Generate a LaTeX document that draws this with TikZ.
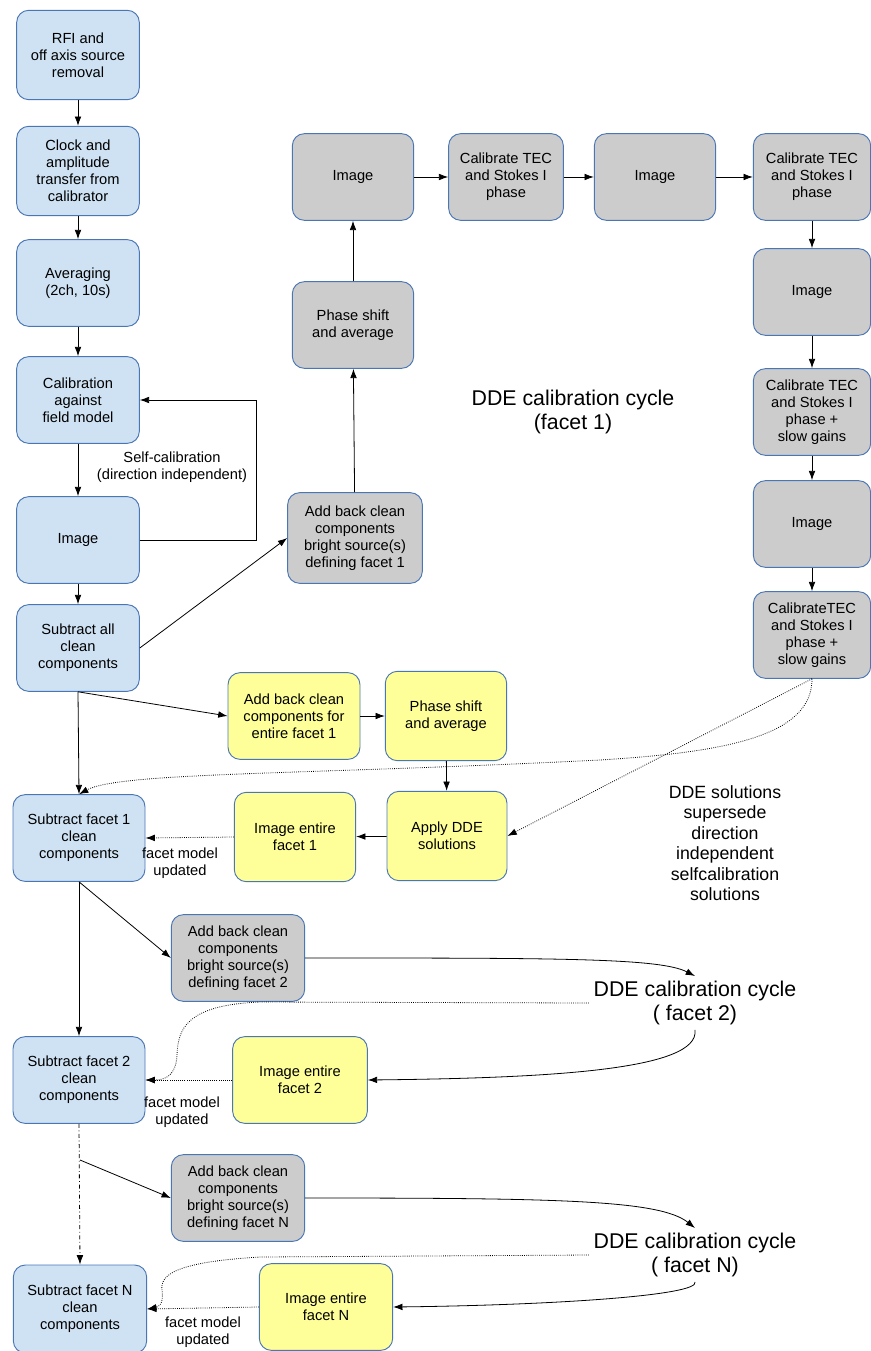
\documentclass[tikz,border=0pt]{standalone}
\usepackage{fontspec}
\setmainfont{Liberation Sans}
\usetikzlibrary{arrows.meta}
\definecolor{boxline}{RGB}{74,118,182}
\definecolor{bluefill}{RGB}{207,226,243}
\definecolor{grayfill}{RGB}{204,204,204}
\definecolor{yellowfill}{RGB}{255,255,153}
\tikzstyle{flowbox}=[draw=boxline, line width=0.7pt, rounded corners=9pt, align=center,
    inner sep=1pt, font=\fontsize{11}{12.8}\selectfont]
\tikzstyle{bluebox}=[flowbox, fill=bluefill]
\tikzstyle{graybox}=[flowbox, fill=grayfill]
\tikzstyle{yellowbox}=[flowbox, fill=yellowfill]
\tikzstyle{txt}=[align=center, font=\fontsize{11}{12.8}\selectfont]
\tikzstyle{medtxt}=[align=center, font=\fontsize{13.3}{15.4}\selectfont]
\tikzstyle{bigtxt}=[align=center, font=\fontsize{16}{18.5}\selectfont]
\newcommand{\bluebox}{\node[bluebox]}
\newcommand{\graybox}{\node[graybox]}
\newcommand{\yellowbox}{\node[yellowbox]}

\begin{document}
\begin{tikzpicture}[x=0.75pt, y=-0.75pt, >={Latex[length=7pt,width=5pt]}
    ,every edge/.style={draw, line width=0.6pt, ->}
    ,hint/.style={densely dotted, line width=0.6pt, ->}
]
\useasboundingbox (0,0) rectangle (870,1351);
% left column
\bluebox[minimum width=92pt, minimum height=67pt] (b1) at (78,55) {RFI and\\off axis source\\removal};
\bluebox[minimum width=92pt, minimum height=67pt] (b2) at (78,171) {Clock and\\amplitude\\transfer from\\calibrator};
\bluebox[minimum width=92pt, minimum height=65pt] (b3) at (78,283) {Averaging\\(2ch, 10s)};
\bluebox[minimum width=92pt, minimum height=65pt] (b4) at (78,400) {Calibration\\against\\field model};
\bluebox[minimum width=92pt, minimum height=65pt] (b5) at (78,540) {Image};
\bluebox[minimum width=92pt, minimum height=65pt] (b6) at (78,648) {Subtract all\\clean\\components};
\bluebox[minimum width=99pt, minimum height=65pt] (b7) at (79,838) {Subtract facet 1\\clean\\components};
\bluebox[minimum width=99pt, minimum height=65pt] (b8) at (79,1080) {Subtract facet 2\\clean\\components};
\bluebox[minimum width=100pt, minimum height=66pt] (b9) at (80,1309) {Subtract facet N\\clean\\components};
% facet 1 cycle
\graybox[minimum width=91pt, minimum height=65pt] (g1) at (353,177) {Image};
\graybox[minimum width=86pt, minimum height=65pt] (g2) at (506,177) {Calibrate TEC\\and Stokes I\\phase};
\graybox[minimum width=91pt, minimum height=65pt] (g3) at (655,177) {Image};
\graybox[minimum width=88pt, minimum height=65pt] (g4) at (812,177) {Calibrate TEC\\and Stokes I\\phase};
\graybox[minimum width=88pt, minimum height=65pt] (g5) at (812,292) {Image};
\graybox[minimum width=88pt, minimum height=65pt] (g6) at (812,412) {Calibrate TEC\\and Stokes I\\phase +\\slow gains};
\graybox[minimum width=88pt, minimum height=65pt] (g7) at (812,524) {Image};
\graybox[minimum width=88pt, minimum height=65pt] (g8) at (812,635) {CalibrateTEC\\and Stokes I\\phase +\\slow gains};
\graybox[minimum width=91pt, minimum height=65pt] (gps) at (353,325) {Phase shift\\and average};
\graybox[minimum width=101pt, minimum height=68pt] (ga1) at (355,538) {Add back clean\\components\\bright source(s)\\defining facet 1};
\graybox[minimum width=100pt, minimum height=65pt] (ga2) at (238,958) {Add back clean\\components\\bright source(s)\\defining facet 2};
\graybox[minimum width=100pt, minimum height=65pt] (gaN) at (238,1198) {Add back clean\\components\\bright source(s)\\defining facet N};
% applying the solutions
\yellowbox[minimum width=99pt, minimum height=65pt] (y1) at (294,716) {Add back clean\\components for\\entire facet 1};
\yellowbox[minimum width=91pt, minimum height=67pt] (y2) at (446,716) {Phase shift\\and average};
\yellowbox[minimum width=90pt, minimum height=67pt] (y3) at (447,836) {Apply DDE\\solutions};
\yellowbox[minimum width=91pt, minimum height=67pt] (y4) at (295,837) {Image entire\\facet 1};
\yellowbox[minimum width=101pt, minimum height=65pt] (y5) at (300,1080) {Image entire\\facet 2};
\yellowbox[minimum width=100pt, minimum height=65pt] (y6) at (326,1307) {Image entire\\facet N};
% texts
\node[bigtxt] (c1) at (573,412) {DDE calibration cycle\\(facet 1)};
\node[txt] (self) at (172,467) {Self-calibration\\(direction independent)};
\node[medtxt] (super) at (725,843) {DDE solutions\\supersede\\direction\\independent\\selfcalibration\\solutions};
\node[txt] (upd1) at (180,863) {facet model\\updated};
\node[bigtxt] (c2) at (695,1003) {DDE calibration cycle\\( facet 2)};
\node[txt] (upd2) at (182,1112) {facet model\\updated};
\node[bigtxt] (cN) at (695,1255) {DDE calibration cycle\\( facet N)};
\node[txt] (updN) at (203,1332) {facet model\\updated};
\coordinate (fork) at (80,1160);

\path
(b1) edge (b2)
(b2) edge (b3)
(b3) edge (b4)
(b4) edge (b5)
(b5) edge (b6)
(b6.south) edge (b7.north)
(b6.south) edge (y1.west)
(b6.east) edge (ga1.west)
(ga1) edge (gps)
(gps) edge (g1)
(g1) edge (g2)
(g2) edge (g3)
(g3) edge (g4)
(g4) edge (g5)
(g5) edge (g6)
(g6) edge (g7)
(g7) edge (g8)
(y1) edge (y2)
(y2) edge (y3)
(y3) edge (y4)
(b7.south) edge (b8.north)
(b7.south) edge (ga2.west)
(fork) edge (gaN.west)
;
\draw[line width=0.6pt, ->] (b5.east) -- ++(117,0) |- (b4.east);
\draw[line width=0.6pt, dash dot, ->] (b8.south) -- (b9.north);
% facet 1 solutions
\draw[hint] (y4.west) -- (b7.east);
\draw[hint] (g8.south) -- (y3.east);
\draw[hint] (g8.south) .. controls (812,735) and (730,752) .. (600,760)
    .. controls (300,775) and (120,772) .. (b7.north);
% facet 2
\draw[line width=0.6pt, ->] (ga2.east) .. controls (560,958) and (660,958) .. (c2.north);
\draw[line width=0.6pt, ->] (c2.south) .. controls (700,1070) and (550,1078) .. (y5.east);
\draw[hint] (c2.west) -- (260,1002) .. controls (185,1005) and (178,1030) .. (177,1055)
    .. controls (176,1076) and (165,1080) .. (b8.east);
\draw[hint] (y5.west) -- (b8.east);
% facet N
\draw[line width=0.6pt, ->] (gaN.east) .. controls (560,1198) and (660,1200) .. (cN.north);
\draw[line width=0.6pt, ->] (cN.south) .. controls (700,1295) and (560,1305) .. (y6.east);
\draw[hint] (cN.west) -- (260,1257) .. controls (175,1262) and (160,1275) .. (162,1290)
    .. controls (164,1305) and (158,1307) .. (b9.east);
\draw[hint] (y6.west) -- (b9.east);
\end{tikzpicture}
\end{document}
